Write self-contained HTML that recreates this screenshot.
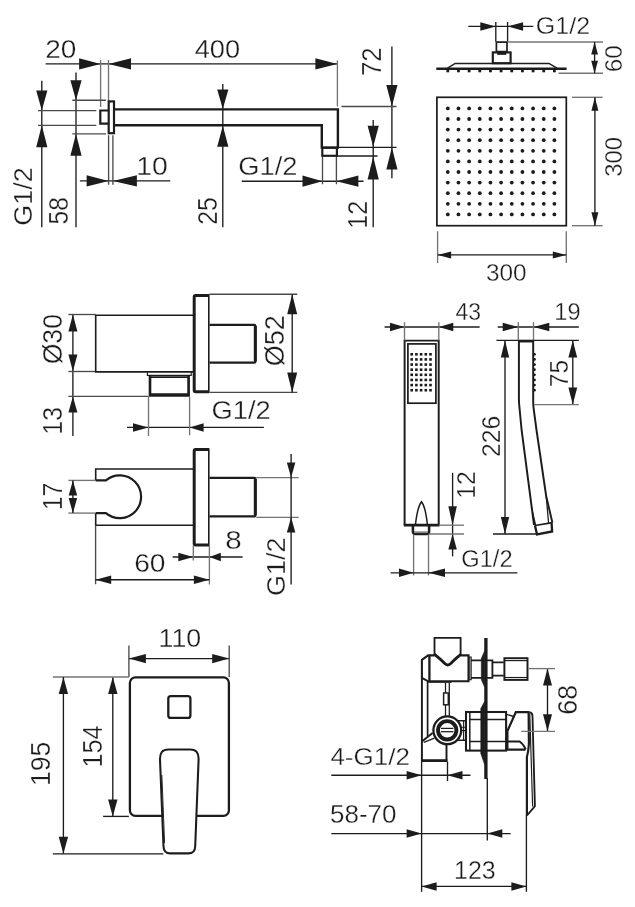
<!DOCTYPE html>
<html><head><meta charset="utf-8"><title>Technical drawing</title>
<style>
html,body{margin:0;padding:0;background:#fff;}
svg{display:block;will-change:transform;filter:blur(0.35px);}
text{font-family:"Liberation Sans",sans-serif;fill:#1c1c1c;stroke:#fff;stroke-width:0.3px;}
</style></head><body>
<svg width="635" height="907" viewBox="0 0 635 907">
<rect x="0" y="0" width="635" height="907" fill="#ffffff"/>
<line x1="45.60" y1="63.90" x2="337.40" y2="63.90" stroke="#1c1c1c" stroke-width="1.35" stroke-linecap="butt"/>
<polygon points="100.60,63.90 79.10,58.30 79.10,69.50" fill="#1c1c1c"/>
<polygon points="108.50,63.90 131.00,58.30 131.00,69.50" fill="#1c1c1c"/>
<polygon points="337.40,63.90 315.40,58.30 315.40,69.50" fill="#1c1c1c"/>
<line x1="100.60" y1="60.00" x2="100.60" y2="107.00" stroke="#747474" stroke-width="1.35" stroke-linecap="butt"/>
<line x1="108.50" y1="60.00" x2="108.50" y2="101.00" stroke="#747474" stroke-width="1.35" stroke-linecap="butt"/>
<line x1="337.40" y1="60.40" x2="337.40" y2="106.50" stroke="#747474" stroke-width="1.35" stroke-linecap="butt"/>
<text transform="translate(45.30,57.90) scale(1.055,1)" font-size="26.52">20</text>
<text transform="translate(194.69,57.90) scale(1.025,1)" font-size="26.52">400</text>
<line x1="76.00" y1="72.60" x2="76.00" y2="227.30" stroke="#1c1c1c" stroke-width="1.35" stroke-linecap="butt"/>
<polygon points="76.00,100.20 70.40,80.20 81.60,80.20" fill="#1c1c1c"/>
<polygon points="76.00,133.80 70.40,155.80 81.60,155.80" fill="#1c1c1c"/>
<line x1="72.30" y1="100.20" x2="106.00" y2="100.20" stroke="#4a4a4a" stroke-width="1.35" stroke-linecap="butt"/>
<line x1="72.30" y1="133.80" x2="106.00" y2="133.80" stroke="#4a4a4a" stroke-width="1.35" stroke-linecap="butt"/>
<text transform="translate(68.30,224.48) rotate(-90) scale(0.900,1)" font-size="27.24">58</text>
<line x1="41.80" y1="80.70" x2="41.80" y2="227.30" stroke="#1c1c1c" stroke-width="1.35" stroke-linecap="butt"/>
<polygon points="41.80,110.60 36.20,90.60 47.40,90.60" fill="#1c1c1c"/>
<polygon points="41.80,125.30 36.20,147.30 47.40,147.30" fill="#1c1c1c"/>
<line x1="38.00" y1="110.60" x2="96.30" y2="110.60" stroke="#4a4a4a" stroke-width="1.35" stroke-linecap="butt"/>
<line x1="38.00" y1="125.30" x2="96.30" y2="125.30" stroke="#4a4a4a" stroke-width="1.35" stroke-linecap="butt"/>
<text transform="translate(32.30,225.64) rotate(-90) scale(1.026,1)" font-size="26.21">G1/2</text>
<line x1="79.90" y1="180.90" x2="170.30" y2="180.90" stroke="#1c1c1c" stroke-width="1.35" stroke-linecap="butt"/>
<polygon points="108.60,180.90 86.60,175.30 86.60,186.50" fill="#1c1c1c"/>
<polygon points="112.90,180.90 136.90,175.30 136.90,186.50" fill="#1c1c1c"/>
<line x1="108.60" y1="135.20" x2="108.60" y2="184.70" stroke="#4a4a4a" stroke-width="1.35" stroke-linecap="butt"/>
<line x1="112.90" y1="135.20" x2="112.90" y2="184.70" stroke="#4a4a4a" stroke-width="1.35" stroke-linecap="butt"/>
<text transform="translate(136.17,174.50) scale(1.070,1)" font-size="26.52">10</text>
<line x1="222.80" y1="84.00" x2="222.80" y2="227.30" stroke="#1c1c1c" stroke-width="1.35" stroke-linecap="butt"/>
<polygon points="222.80,109.10 217.20,89.60 228.40,89.60" fill="#1c1c1c"/>
<polygon points="222.80,125.80 217.20,146.80 228.40,146.80" fill="#1c1c1c"/>
<text transform="translate(217.30,224.74) rotate(-90) scale(0.907,1)" font-size="27.24">25</text>
<line x1="241.80" y1="181.20" x2="363.50" y2="181.20" stroke="#1c1c1c" stroke-width="1.35" stroke-linecap="butt"/>
<polygon points="322.50,181.20 302.50,175.60 302.50,186.80" fill="#1c1c1c"/>
<polygon points="336.40,181.20 358.40,175.60 358.40,186.80" fill="#1c1c1c"/>
<line x1="322.50" y1="156.80" x2="322.50" y2="184.20" stroke="#4a4a4a" stroke-width="1.35" stroke-linecap="butt"/>
<line x1="336.40" y1="156.80" x2="336.40" y2="184.20" stroke="#4a4a4a" stroke-width="1.35" stroke-linecap="butt"/>
<text transform="translate(238.34,175.00) scale(1.069,1)" font-size="25.52">G1/2</text>
<line x1="391.90" y1="46.50" x2="391.90" y2="178.30" stroke="#1c1c1c" stroke-width="1.35" stroke-linecap="butt"/>
<polygon points="391.90,106.50 386.30,85.00 397.50,85.00" fill="#1c1c1c"/>
<polygon points="391.90,147.60 386.30,169.60 397.50,169.60" fill="#1c1c1c"/>
<line x1="341.50" y1="106.50" x2="396.50" y2="106.50" stroke="#4a4a4a" stroke-width="1.35" stroke-linecap="butt"/>
<line x1="338.00" y1="147.40" x2="396.50" y2="147.40" stroke="#1c1c1c" stroke-width="1.35" stroke-linecap="butt"/>
<text transform="translate(381.10,75.99) rotate(-90) scale(0.945,1)" font-size="27.24">72</text>
<line x1="373.20" y1="120.00" x2="373.20" y2="227.30" stroke="#1c1c1c" stroke-width="1.35" stroke-linecap="butt"/>
<polygon points="373.20,146.80 367.60,125.80 378.80,125.80" fill="#1c1c1c"/>
<polygon points="373.20,156.60 367.60,179.60 378.80,179.60" fill="#1c1c1c"/>
<line x1="336.40" y1="156.00" x2="377.50" y2="156.00" stroke="#1c1c1c" stroke-width="1.35" stroke-linecap="butt"/>
<text transform="translate(366.60,228.68) rotate(-90) scale(0.921,1)" font-size="27.24">12</text>
<path d="M114.5,109.4 H337.9 V147.6 H321.8 V125.2 H114.5" fill="none" stroke="#1c1c1c" stroke-width="2.42" stroke-linejoin="miter" stroke-linecap="butt"/>
<rect x="108.70" y="101.40" width="5.30" height="31.80" rx="0" fill="none" stroke="#1c1c1c" stroke-width="2.18"/>
<path d="M108.5,110.5 H100.3 V123.6 H108.5" fill="none" stroke="#1c1c1c" stroke-width="2.18" stroke-linejoin="miter" stroke-linecap="butt"/>
<rect x="322.30" y="147.70" width="14.60" height="8.10" rx="0" fill="none" stroke="#1c1c1c" stroke-width="2.18"/>
<line x1="468.30" y1="26.40" x2="533.30" y2="26.40" stroke="#1c1c1c" stroke-width="1.35" stroke-linecap="butt"/>
<polygon points="495.80,26.40 480.30,22.15 480.30,30.65" fill="#1c1c1c"/>
<polygon points="507.60,26.40 523.10,22.15 523.10,30.65" fill="#1c1c1c"/>
<line x1="495.80" y1="22.00" x2="495.80" y2="41.50" stroke="#1c1c1c" stroke-width="1.35" stroke-linecap="butt"/>
<line x1="507.60" y1="22.00" x2="507.60" y2="41.50" stroke="#1c1c1c" stroke-width="1.35" stroke-linecap="butt"/>
<text transform="translate(535.85,33.90) scale(1.086,1)" font-size="23.03">G1/2</text>
<rect x="496.40" y="42.10" width="10.60" height="9.50" rx="0" fill="none" stroke="#1c1c1c" stroke-width="1.72"/>
<line x1="497.20" y1="53.70" x2="506.20" y2="53.70" stroke="#1c1c1c" stroke-width="2.3" stroke-linecap="butt"/>
<rect x="492.80" y="52.40" width="17.80" height="10.80" rx="0" fill="none" stroke="#1c1c1c" stroke-width="2.18"/>
<path d="M447.5,68.2 L455.2,63.4 H549 L557,68.2" fill="none" stroke="#1c1c1c" stroke-width="1.49" stroke-linejoin="miter" stroke-linecap="butt"/>
<line x1="436.30" y1="68.80" x2="566.60" y2="68.80" stroke="#1c1c1c" stroke-width="2.64" stroke-linecap="butt"/>
<rect x="446.40" y="69.5" width="2.8" height="2.8" fill="#1c1c1c"/>
<rect x="457.06" y="69.5" width="2.8" height="2.8" fill="#1c1c1c"/>
<rect x="467.72" y="69.5" width="2.8" height="2.8" fill="#1c1c1c"/>
<rect x="478.38" y="69.5" width="2.8" height="2.8" fill="#1c1c1c"/>
<rect x="489.04" y="69.5" width="2.8" height="2.8" fill="#1c1c1c"/>
<rect x="499.70" y="69.5" width="2.8" height="2.8" fill="#1c1c1c"/>
<rect x="510.36" y="69.5" width="2.8" height="2.8" fill="#1c1c1c"/>
<rect x="521.02" y="69.5" width="2.8" height="2.8" fill="#1c1c1c"/>
<rect x="531.68" y="69.5" width="2.8" height="2.8" fill="#1c1c1c"/>
<rect x="542.34" y="69.5" width="2.8" height="2.8" fill="#1c1c1c"/>
<rect x="553.00" y="69.5" width="2.8" height="2.8" fill="#1c1c1c"/>
<line x1="507.60" y1="42.00" x2="603.00" y2="42.00" stroke="#747474" stroke-width="1.35" stroke-linecap="butt"/>
<line x1="558.60" y1="73.20" x2="603.00" y2="73.20" stroke="#747474" stroke-width="1.35" stroke-linecap="butt"/>
<line x1="594.60" y1="42.00" x2="594.60" y2="73.20" stroke="#1c1c1c" stroke-width="1.35" stroke-linecap="butt"/>
<polygon points="594.60,42.00 591.20,54.50 598.00,54.50" fill="#1c1c1c"/>
<polygon points="594.60,73.20 591.20,60.70 598.00,60.70" fill="#1c1c1c"/>
<text transform="translate(621.80,72.32) rotate(-90) scale(1.017,1)" font-size="23.94">60</text>
<rect x="436.90" y="97.30" width="129.40" height="128.40" rx="0" fill="none" stroke="#1c1c1c" stroke-width="1.72"/>
<circle cx="447.80" cy="108.40" r="1.9" fill="#1c1c1c"/>
<circle cx="447.80" cy="119.00" r="1.9" fill="#1c1c1c"/>
<circle cx="447.80" cy="129.60" r="1.9" fill="#1c1c1c"/>
<circle cx="447.80" cy="140.20" r="1.9" fill="#1c1c1c"/>
<circle cx="447.80" cy="150.80" r="1.9" fill="#1c1c1c"/>
<circle cx="447.80" cy="161.40" r="1.9" fill="#1c1c1c"/>
<circle cx="447.80" cy="172.00" r="1.9" fill="#1c1c1c"/>
<circle cx="447.80" cy="182.60" r="1.9" fill="#1c1c1c"/>
<circle cx="447.80" cy="193.20" r="1.9" fill="#1c1c1c"/>
<circle cx="447.80" cy="203.80" r="1.9" fill="#1c1c1c"/>
<circle cx="447.80" cy="214.40" r="1.9" fill="#1c1c1c"/>
<circle cx="458.46" cy="108.40" r="1.9" fill="#1c1c1c"/>
<circle cx="458.46" cy="119.00" r="1.9" fill="#1c1c1c"/>
<circle cx="458.46" cy="129.60" r="1.9" fill="#1c1c1c"/>
<circle cx="458.46" cy="140.20" r="1.9" fill="#1c1c1c"/>
<circle cx="458.46" cy="150.80" r="1.9" fill="#1c1c1c"/>
<circle cx="458.46" cy="161.40" r="1.9" fill="#1c1c1c"/>
<circle cx="458.46" cy="172.00" r="1.9" fill="#1c1c1c"/>
<circle cx="458.46" cy="182.60" r="1.9" fill="#1c1c1c"/>
<circle cx="458.46" cy="193.20" r="1.9" fill="#1c1c1c"/>
<circle cx="458.46" cy="203.80" r="1.9" fill="#1c1c1c"/>
<circle cx="458.46" cy="214.40" r="1.9" fill="#1c1c1c"/>
<circle cx="469.12" cy="108.40" r="1.9" fill="#1c1c1c"/>
<circle cx="469.12" cy="119.00" r="1.9" fill="#1c1c1c"/>
<circle cx="469.12" cy="129.60" r="1.9" fill="#1c1c1c"/>
<circle cx="469.12" cy="140.20" r="1.9" fill="#1c1c1c"/>
<circle cx="469.12" cy="150.80" r="1.9" fill="#1c1c1c"/>
<circle cx="469.12" cy="161.40" r="1.9" fill="#1c1c1c"/>
<circle cx="469.12" cy="172.00" r="1.9" fill="#1c1c1c"/>
<circle cx="469.12" cy="182.60" r="1.9" fill="#1c1c1c"/>
<circle cx="469.12" cy="193.20" r="1.9" fill="#1c1c1c"/>
<circle cx="469.12" cy="203.80" r="1.9" fill="#1c1c1c"/>
<circle cx="469.12" cy="214.40" r="1.9" fill="#1c1c1c"/>
<circle cx="479.78" cy="108.40" r="1.9" fill="#1c1c1c"/>
<circle cx="479.78" cy="119.00" r="1.9" fill="#1c1c1c"/>
<circle cx="479.78" cy="129.60" r="1.9" fill="#1c1c1c"/>
<circle cx="479.78" cy="140.20" r="1.9" fill="#1c1c1c"/>
<circle cx="479.78" cy="150.80" r="1.9" fill="#1c1c1c"/>
<circle cx="479.78" cy="161.40" r="1.9" fill="#1c1c1c"/>
<circle cx="479.78" cy="172.00" r="1.9" fill="#1c1c1c"/>
<circle cx="479.78" cy="182.60" r="1.9" fill="#1c1c1c"/>
<circle cx="479.78" cy="193.20" r="1.9" fill="#1c1c1c"/>
<circle cx="479.78" cy="203.80" r="1.9" fill="#1c1c1c"/>
<circle cx="479.78" cy="214.40" r="1.9" fill="#1c1c1c"/>
<circle cx="490.44" cy="108.40" r="1.9" fill="#1c1c1c"/>
<circle cx="490.44" cy="119.00" r="1.9" fill="#1c1c1c"/>
<circle cx="490.44" cy="129.60" r="1.9" fill="#1c1c1c"/>
<circle cx="490.44" cy="140.20" r="1.9" fill="#1c1c1c"/>
<circle cx="490.44" cy="150.80" r="1.9" fill="#1c1c1c"/>
<circle cx="490.44" cy="161.40" r="1.9" fill="#1c1c1c"/>
<circle cx="490.44" cy="172.00" r="1.9" fill="#1c1c1c"/>
<circle cx="490.44" cy="182.60" r="1.9" fill="#1c1c1c"/>
<circle cx="490.44" cy="193.20" r="1.9" fill="#1c1c1c"/>
<circle cx="490.44" cy="203.80" r="1.9" fill="#1c1c1c"/>
<circle cx="490.44" cy="214.40" r="1.9" fill="#1c1c1c"/>
<circle cx="501.10" cy="108.40" r="1.9" fill="#1c1c1c"/>
<circle cx="501.10" cy="119.00" r="1.9" fill="#1c1c1c"/>
<circle cx="501.10" cy="129.60" r="1.9" fill="#1c1c1c"/>
<circle cx="501.10" cy="140.20" r="1.9" fill="#1c1c1c"/>
<circle cx="501.10" cy="150.80" r="1.9" fill="#1c1c1c"/>
<circle cx="501.10" cy="161.40" r="1.9" fill="#1c1c1c"/>
<circle cx="501.10" cy="172.00" r="1.9" fill="#1c1c1c"/>
<circle cx="501.10" cy="182.60" r="1.9" fill="#1c1c1c"/>
<circle cx="501.10" cy="193.20" r="1.9" fill="#1c1c1c"/>
<circle cx="501.10" cy="203.80" r="1.9" fill="#1c1c1c"/>
<circle cx="501.10" cy="214.40" r="1.9" fill="#1c1c1c"/>
<circle cx="511.76" cy="108.40" r="1.9" fill="#1c1c1c"/>
<circle cx="511.76" cy="119.00" r="1.9" fill="#1c1c1c"/>
<circle cx="511.76" cy="129.60" r="1.9" fill="#1c1c1c"/>
<circle cx="511.76" cy="140.20" r="1.9" fill="#1c1c1c"/>
<circle cx="511.76" cy="150.80" r="1.9" fill="#1c1c1c"/>
<circle cx="511.76" cy="161.40" r="1.9" fill="#1c1c1c"/>
<circle cx="511.76" cy="172.00" r="1.9" fill="#1c1c1c"/>
<circle cx="511.76" cy="182.60" r="1.9" fill="#1c1c1c"/>
<circle cx="511.76" cy="193.20" r="1.9" fill="#1c1c1c"/>
<circle cx="511.76" cy="203.80" r="1.9" fill="#1c1c1c"/>
<circle cx="511.76" cy="214.40" r="1.9" fill="#1c1c1c"/>
<circle cx="522.42" cy="108.40" r="1.9" fill="#1c1c1c"/>
<circle cx="522.42" cy="119.00" r="1.9" fill="#1c1c1c"/>
<circle cx="522.42" cy="129.60" r="1.9" fill="#1c1c1c"/>
<circle cx="522.42" cy="140.20" r="1.9" fill="#1c1c1c"/>
<circle cx="522.42" cy="150.80" r="1.9" fill="#1c1c1c"/>
<circle cx="522.42" cy="161.40" r="1.9" fill="#1c1c1c"/>
<circle cx="522.42" cy="172.00" r="1.9" fill="#1c1c1c"/>
<circle cx="522.42" cy="182.60" r="1.9" fill="#1c1c1c"/>
<circle cx="522.42" cy="193.20" r="1.9" fill="#1c1c1c"/>
<circle cx="522.42" cy="203.80" r="1.9" fill="#1c1c1c"/>
<circle cx="522.42" cy="214.40" r="1.9" fill="#1c1c1c"/>
<circle cx="533.08" cy="108.40" r="1.9" fill="#1c1c1c"/>
<circle cx="533.08" cy="119.00" r="1.9" fill="#1c1c1c"/>
<circle cx="533.08" cy="129.60" r="1.9" fill="#1c1c1c"/>
<circle cx="533.08" cy="140.20" r="1.9" fill="#1c1c1c"/>
<circle cx="533.08" cy="150.80" r="1.9" fill="#1c1c1c"/>
<circle cx="533.08" cy="161.40" r="1.9" fill="#1c1c1c"/>
<circle cx="533.08" cy="172.00" r="1.9" fill="#1c1c1c"/>
<circle cx="533.08" cy="182.60" r="1.9" fill="#1c1c1c"/>
<circle cx="533.08" cy="193.20" r="1.9" fill="#1c1c1c"/>
<circle cx="533.08" cy="203.80" r="1.9" fill="#1c1c1c"/>
<circle cx="533.08" cy="214.40" r="1.9" fill="#1c1c1c"/>
<circle cx="543.74" cy="108.40" r="1.9" fill="#1c1c1c"/>
<circle cx="543.74" cy="119.00" r="1.9" fill="#1c1c1c"/>
<circle cx="543.74" cy="129.60" r="1.9" fill="#1c1c1c"/>
<circle cx="543.74" cy="140.20" r="1.9" fill="#1c1c1c"/>
<circle cx="543.74" cy="150.80" r="1.9" fill="#1c1c1c"/>
<circle cx="543.74" cy="161.40" r="1.9" fill="#1c1c1c"/>
<circle cx="543.74" cy="172.00" r="1.9" fill="#1c1c1c"/>
<circle cx="543.74" cy="182.60" r="1.9" fill="#1c1c1c"/>
<circle cx="543.74" cy="193.20" r="1.9" fill="#1c1c1c"/>
<circle cx="543.74" cy="203.80" r="1.9" fill="#1c1c1c"/>
<circle cx="543.74" cy="214.40" r="1.9" fill="#1c1c1c"/>
<circle cx="554.40" cy="108.40" r="1.9" fill="#1c1c1c"/>
<circle cx="554.40" cy="119.00" r="1.9" fill="#1c1c1c"/>
<circle cx="554.40" cy="129.60" r="1.9" fill="#1c1c1c"/>
<circle cx="554.40" cy="140.20" r="1.9" fill="#1c1c1c"/>
<circle cx="554.40" cy="150.80" r="1.9" fill="#1c1c1c"/>
<circle cx="554.40" cy="161.40" r="1.9" fill="#1c1c1c"/>
<circle cx="554.40" cy="172.00" r="1.9" fill="#1c1c1c"/>
<circle cx="554.40" cy="182.60" r="1.9" fill="#1c1c1c"/>
<circle cx="554.40" cy="193.20" r="1.9" fill="#1c1c1c"/>
<circle cx="554.40" cy="203.80" r="1.9" fill="#1c1c1c"/>
<circle cx="554.40" cy="214.40" r="1.9" fill="#1c1c1c"/>
<line x1="572.00" y1="97.30" x2="602.60" y2="97.30" stroke="#747474" stroke-width="1.35" stroke-linecap="butt"/>
<line x1="572.00" y1="225.70" x2="602.60" y2="225.70" stroke="#747474" stroke-width="1.35" stroke-linecap="butt"/>
<line x1="594.90" y1="97.30" x2="594.90" y2="225.70" stroke="#1c1c1c" stroke-width="1.35" stroke-linecap="butt"/>
<polygon points="594.90,97.30 591.40,110.80 598.40,110.80" fill="#1c1c1c"/>
<polygon points="594.90,225.70 591.40,212.20 598.40,212.20" fill="#1c1c1c"/>
<text transform="translate(621.80,176.80) rotate(-90) scale(0.999,1)" font-size="23.94">300</text>
<line x1="437.60" y1="231.30" x2="437.60" y2="263.10" stroke="#747474" stroke-width="1.35" stroke-linecap="butt"/>
<line x1="566.30" y1="231.30" x2="566.30" y2="263.10" stroke="#747474" stroke-width="1.35" stroke-linecap="butt"/>
<line x1="437.60" y1="254.90" x2="566.30" y2="254.90" stroke="#1c1c1c" stroke-width="1.35" stroke-linecap="butt"/>
<polygon points="437.60,254.90 451.10,251.40 451.10,258.40" fill="#1c1c1c"/>
<polygon points="566.30,254.90 552.80,251.40 552.80,258.40" fill="#1c1c1c"/>
<text transform="translate(485.99,280.60) scale(1.018,1)" font-size="23.94">300</text>
<line x1="72.90" y1="314.50" x2="72.90" y2="436.00" stroke="#1c1c1c" stroke-width="1.35" stroke-linecap="butt"/>
<polygon points="72.90,314.50 68.40,331.50 77.40,331.50" fill="#1c1c1c"/>
<polygon points="72.90,371.50 68.40,354.50 77.40,354.50" fill="#1c1c1c"/>
<polygon points="72.90,396.40 68.40,412.40 77.40,412.40" fill="#1c1c1c"/>
<line x1="68.40" y1="314.50" x2="95.60" y2="314.50" stroke="#4a4a4a" stroke-width="1.35" stroke-linecap="butt"/>
<line x1="68.40" y1="371.50" x2="95.60" y2="371.50" stroke="#4a4a4a" stroke-width="1.35" stroke-linecap="butt"/>
<line x1="68.40" y1="396.40" x2="148.50" y2="396.40" stroke="#4a4a4a" stroke-width="1.35" stroke-linecap="butt"/>
<text transform="translate(62.10,364.33) rotate(-90) scale(0.997,1)" font-size="26.71">Ø30</text>
<text transform="translate(62.10,434.55) rotate(-90) scale(0.901,1)" font-size="27.38">13</text>
<path d="M193.3,315.3 H95.7 V371.9 H193.3" fill="none" stroke="#1c1c1c" stroke-width="1.61" stroke-linejoin="miter" stroke-linecap="butt"/>
<path d="M209.0,295.4 H195.6 Q194.2,295.4 194.2,296.8 V390.3 Q194.2,391.7 195.6,391.7 H209.0" fill="none" stroke="#1c1c1c" stroke-width="2.99" stroke-linejoin="round" stroke-linecap="butt"/>
<line x1="208.80" y1="294.20" x2="208.80" y2="393.00" stroke="#1c1c1c" stroke-width="1.61" stroke-linecap="butt"/>
<path d="M209.5,324.8 H254.2 Q255.4,324.8 255.4,326 V361.4 Q255.4,362.6 254.2,362.6 H209.5" fill="none" stroke="#1c1c1c" stroke-width="2.3" stroke-linejoin="miter" stroke-linecap="butt"/>
<line x1="255.30" y1="326.00" x2="255.30" y2="361.40" stroke="#1c1c1c" stroke-width="2.99" stroke-linecap="butt"/>
<path d="M147.4,372.3 V375.3 H191.2 V372.3" fill="none" stroke="#1c1c1c" stroke-width="1.15" stroke-linejoin="miter" stroke-linecap="butt"/>
<path d="M150.0,375.8 V395.4 H188.6 V375.8" fill="none" stroke="#1c1c1c" stroke-width="2.64" stroke-linejoin="miter" stroke-linecap="butt"/>
<line x1="150.00" y1="377.20" x2="188.60" y2="377.20" stroke="#1c1c1c" stroke-width="1.84" stroke-linecap="butt"/>
<line x1="150.00" y1="394.00" x2="188.60" y2="394.00" stroke="#1c1c1c" stroke-width="1.38" stroke-linecap="butt"/>
<line x1="209.40" y1="294.20" x2="297.30" y2="294.20" stroke="#4a4a4a" stroke-width="1.35" stroke-linecap="butt"/>
<line x1="209.40" y1="392.40" x2="297.30" y2="392.40" stroke="#4a4a4a" stroke-width="1.35" stroke-linecap="butt"/>
<line x1="292.20" y1="294.20" x2="292.20" y2="392.40" stroke="#1c1c1c" stroke-width="1.35" stroke-linecap="butt"/>
<polygon points="292.20,294.20 287.20,314.20 297.20,314.20" fill="#1c1c1c"/>
<polygon points="292.20,392.40 287.20,372.40 297.20,372.40" fill="#1c1c1c"/>
<text transform="translate(283.60,366.25) rotate(-90) scale(1.012,1)" font-size="26.71">Ø52</text>
<line x1="127.00" y1="427.40" x2="263.90" y2="427.40" stroke="#1c1c1c" stroke-width="1.35" stroke-linecap="butt"/>
<polygon points="148.50,427.40 133.00,423.15 133.00,431.65" fill="#1c1c1c"/>
<polygon points="189.60,427.40 203.60,423.15 203.60,431.65" fill="#1c1c1c"/>
<line x1="148.50" y1="396.40" x2="148.50" y2="436.00" stroke="#747474" stroke-width="1.35" stroke-linecap="butt"/>
<line x1="189.60" y1="396.40" x2="189.60" y2="435.30" stroke="#747474" stroke-width="1.35" stroke-linecap="butt"/>
<text transform="translate(211.43,419.40) scale(1.065,1)" font-size="25.66">G1/2</text>
<path d="M193.3,469 H95.7 V480.4" fill="none" stroke="#1c1c1c" stroke-width="1.61" stroke-linejoin="miter" stroke-linecap="butt"/>
<path d="M95.7,513.1 V525.2 H193.3" fill="none" stroke="#1c1c1c" stroke-width="1.61" stroke-linejoin="miter" stroke-linecap="butt"/>
<path d="M95.7,480.4 H105.9 A21.4,21.4 0 1 1 105.9,513.1 H95.7" fill="none" stroke="#1c1c1c" stroke-width="2.18" stroke-linejoin="miter" stroke-linecap="butt"/>
<line x1="68.40" y1="480.40" x2="95.60" y2="480.40" stroke="#747474" stroke-width="1.35" stroke-linecap="butt"/>
<line x1="68.40" y1="513.10" x2="95.60" y2="513.10" stroke="#747474" stroke-width="1.35" stroke-linecap="butt"/>
<line x1="72.90" y1="480.40" x2="72.90" y2="513.10" stroke="#1c1c1c" stroke-width="1.35" stroke-linecap="butt"/>
<polygon points="72.90,480.40 68.65,495.40 77.15,495.40" fill="#1c1c1c"/>
<polygon points="72.90,513.10 68.65,498.10 77.15,498.10" fill="#1c1c1c"/>
<text transform="translate(62.10,510.27) rotate(-90) scale(0.895,1)" font-size="27.78">17</text>
<path d="M209.0,449.6 H195.6 Q194.2,449.6 194.2,451 V543.6 Q194.2,545 195.6,545 H209.0" fill="none" stroke="#1c1c1c" stroke-width="2.99" stroke-linejoin="round" stroke-linecap="butt"/>
<line x1="208.80" y1="448.40" x2="208.80" y2="546.20" stroke="#1c1c1c" stroke-width="1.61" stroke-linecap="butt"/>
<path d="M209.5,477.8 H254.2 Q255.4,477.8 255.4,479 V515.2 Q255.4,516.4 254.2,516.4 H209.5" fill="none" stroke="#1c1c1c" stroke-width="2.3" stroke-linejoin="miter" stroke-linecap="butt"/>
<line x1="255.30" y1="479.00" x2="255.30" y2="515.20" stroke="#1c1c1c" stroke-width="2.99" stroke-linecap="butt"/>
<line x1="256.20" y1="477.60" x2="298.70" y2="477.60" stroke="#747474" stroke-width="1.35" stroke-linecap="butt"/>
<line x1="256.20" y1="517.30" x2="298.70" y2="517.30" stroke="#747474" stroke-width="1.35" stroke-linecap="butt"/>
<line x1="291.10" y1="454.10" x2="291.10" y2="584.50" stroke="#1c1c1c" stroke-width="1.35" stroke-linecap="butt"/>
<polygon points="291.10,477.60 286.85,462.60 295.35,462.60" fill="#1c1c1c"/>
<polygon points="291.10,517.30 286.85,532.60 295.35,532.60" fill="#1c1c1c"/>
<text transform="translate(284.50,596.05) rotate(-90) scale(1.026,1)" font-size="26.34">G1/2</text>
<line x1="172.60" y1="557.00" x2="242.60" y2="557.00" stroke="#1c1c1c" stroke-width="1.35" stroke-linecap="butt"/>
<polygon points="193.30,557.00 178.30,552.75 178.30,561.25" fill="#1c1c1c"/>
<polygon points="209.40,557.00 220.80,552.75 220.80,561.25" fill="#1c1c1c"/>
<line x1="193.30" y1="545.60" x2="193.30" y2="560.40" stroke="#747474" stroke-width="1.35" stroke-linecap="butt"/>
<line x1="209.40" y1="545.60" x2="209.40" y2="584.50" stroke="#747474" stroke-width="1.35" stroke-linecap="butt"/>
<text transform="translate(225.34,548.90) scale(1.109,1)" font-size="26.67">8</text>
<line x1="95.60" y1="525.20" x2="95.60" y2="584.20" stroke="#4a4a4a" stroke-width="1.35" stroke-linecap="butt"/>
<line x1="95.60" y1="579.70" x2="209.40" y2="579.70" stroke="#1c1c1c" stroke-width="1.35" stroke-linecap="butt"/>
<polygon points="95.60,579.70 111.20,575.45 111.20,583.95" fill="#1c1c1c"/>
<polygon points="209.40,579.70 193.90,575.45 193.90,583.95" fill="#1c1c1c"/>
<text transform="translate(134.19,572.10) scale(1.056,1)" font-size="26.67">60</text>
<path d="M404.6,525.2 V340.6 H438.7 V525.2" fill="none" stroke="#1c1c1c" stroke-width="1.95" stroke-linejoin="miter" stroke-linecap="butt"/>
<line x1="403.80" y1="525.20" x2="439.50" y2="525.20" stroke="#1c1c1c" stroke-width="2.76" stroke-linecap="butt"/>
<rect x="407.90" y="343.90" width="28.00" height="59.30" rx="0" fill="none" stroke="#1c1c1c" stroke-width="1.72"/>
<rect x="410.40" y="353.00" width="2.6" height="2.6" fill="#1c1c1c"/>
<rect x="410.40" y="358.13" width="2.6" height="2.6" fill="#1c1c1c"/>
<rect x="410.40" y="363.26" width="2.6" height="2.6" fill="#1c1c1c"/>
<rect x="410.40" y="368.39" width="2.6" height="2.6" fill="#1c1c1c"/>
<rect x="410.40" y="373.52" width="2.6" height="2.6" fill="#1c1c1c"/>
<rect x="410.40" y="378.65" width="2.6" height="2.6" fill="#1c1c1c"/>
<rect x="410.40" y="383.78" width="2.6" height="2.6" fill="#1c1c1c"/>
<rect x="410.40" y="388.91" width="2.6" height="2.6" fill="#1c1c1c"/>
<rect x="415.10" y="353.00" width="2.6" height="2.6" fill="#1c1c1c"/>
<rect x="415.10" y="358.13" width="2.6" height="2.6" fill="#1c1c1c"/>
<rect x="415.10" y="363.26" width="2.6" height="2.6" fill="#1c1c1c"/>
<rect x="415.10" y="368.39" width="2.6" height="2.6" fill="#1c1c1c"/>
<rect x="415.10" y="373.52" width="2.6" height="2.6" fill="#1c1c1c"/>
<rect x="415.10" y="378.65" width="2.6" height="2.6" fill="#1c1c1c"/>
<rect x="415.10" y="383.78" width="2.6" height="2.6" fill="#1c1c1c"/>
<rect x="415.10" y="388.91" width="2.6" height="2.6" fill="#1c1c1c"/>
<rect x="419.80" y="353.00" width="2.6" height="2.6" fill="#1c1c1c"/>
<rect x="419.80" y="358.13" width="2.6" height="2.6" fill="#1c1c1c"/>
<rect x="419.80" y="363.26" width="2.6" height="2.6" fill="#1c1c1c"/>
<rect x="419.80" y="368.39" width="2.6" height="2.6" fill="#1c1c1c"/>
<rect x="419.80" y="373.52" width="2.6" height="2.6" fill="#1c1c1c"/>
<rect x="419.80" y="378.65" width="2.6" height="2.6" fill="#1c1c1c"/>
<rect x="419.80" y="383.78" width="2.6" height="2.6" fill="#1c1c1c"/>
<rect x="419.80" y="388.91" width="2.6" height="2.6" fill="#1c1c1c"/>
<rect x="424.50" y="353.00" width="2.6" height="2.6" fill="#1c1c1c"/>
<rect x="424.50" y="358.13" width="2.6" height="2.6" fill="#1c1c1c"/>
<rect x="424.50" y="363.26" width="2.6" height="2.6" fill="#1c1c1c"/>
<rect x="424.50" y="368.39" width="2.6" height="2.6" fill="#1c1c1c"/>
<rect x="424.50" y="373.52" width="2.6" height="2.6" fill="#1c1c1c"/>
<rect x="424.50" y="378.65" width="2.6" height="2.6" fill="#1c1c1c"/>
<rect x="424.50" y="383.78" width="2.6" height="2.6" fill="#1c1c1c"/>
<rect x="424.50" y="388.91" width="2.6" height="2.6" fill="#1c1c1c"/>
<rect x="429.20" y="353.00" width="2.6" height="2.6" fill="#1c1c1c"/>
<rect x="429.20" y="358.13" width="2.6" height="2.6" fill="#1c1c1c"/>
<rect x="429.20" y="363.26" width="2.6" height="2.6" fill="#1c1c1c"/>
<rect x="429.20" y="368.39" width="2.6" height="2.6" fill="#1c1c1c"/>
<rect x="429.20" y="373.52" width="2.6" height="2.6" fill="#1c1c1c"/>
<rect x="429.20" y="378.65" width="2.6" height="2.6" fill="#1c1c1c"/>
<rect x="429.20" y="383.78" width="2.6" height="2.6" fill="#1c1c1c"/>
<rect x="429.20" y="388.91" width="2.6" height="2.6" fill="#1c1c1c"/>
<path d="M415.4,525 C417,511 420,503.5 421.5,501.7 C423,503.5 426,511 427.4,525" fill="none" stroke="#1c1c1c" stroke-width="1.49" stroke-linejoin="miter" stroke-linecap="butt"/>
<path d="M412.9,525.2 V531.3 Q412.9,533.9 415.5,533.9 H426.5 Q429.1,533.9 429.1,531.3 V525.2" fill="none" stroke="#1c1c1c" stroke-width="2.53" stroke-linejoin="miter" stroke-linecap="butt"/>
<line x1="414.00" y1="532.20" x2="428.00" y2="532.20" stroke="#888" stroke-width="1.84" stroke-linecap="butt"/>
<line x1="384.60" y1="327.00" x2="479.60" y2="327.00" stroke="#1c1c1c" stroke-width="1.35" stroke-linecap="butt"/>
<polygon points="404.50,327.00 390.00,322.75 390.00,331.25" fill="#1c1c1c"/>
<polygon points="438.80,327.00 453.30,322.75 453.30,331.25" fill="#1c1c1c"/>
<line x1="404.50" y1="322.30" x2="404.50" y2="340.40" stroke="#747474" stroke-width="1.35" stroke-linecap="butt"/>
<line x1="438.80" y1="322.30" x2="438.80" y2="340.40" stroke="#747474" stroke-width="1.35" stroke-linecap="butt"/>
<text transform="translate(455.58,320.00) scale(0.937,1)" font-size="24.52">43</text>
<line x1="413.60" y1="534.50" x2="413.60" y2="575.50" stroke="#747474" stroke-width="1.35" stroke-linecap="butt"/>
<line x1="428.50" y1="534.50" x2="428.50" y2="575.50" stroke="#747474" stroke-width="1.35" stroke-linecap="butt"/>
<line x1="390.70" y1="572.80" x2="517.40" y2="572.80" stroke="#1c1c1c" stroke-width="1.35" stroke-linecap="butt"/>
<polygon points="413.60,572.80 399.00,568.55 399.00,577.05" fill="#1c1c1c"/>
<polygon points="428.50,572.80 445.00,568.55 445.00,577.05" fill="#1c1c1c"/>
<text transform="translate(461.21,566.50) scale(1.005,1)" font-size="23.59">G1/2</text>
<line x1="452.60" y1="472.80" x2="452.60" y2="556.40" stroke="#1c1c1c" stroke-width="1.35" stroke-linecap="butt"/>
<polygon points="452.60,525.20 448.35,506.20 456.85,506.20" fill="#1c1c1c"/>
<polygon points="452.60,534.00 448.35,549.60 456.85,549.60" fill="#1c1c1c"/>
<line x1="438.80" y1="525.20" x2="464.00" y2="525.20" stroke="#747474" stroke-width="1.35" stroke-linecap="butt"/>
<line x1="429.20" y1="534.00" x2="464.00" y2="534.00" stroke="#747474" stroke-width="1.35" stroke-linecap="butt"/>
<text transform="translate(474.50,498.87) rotate(-90) scale(0.986,1)" font-size="25.23">12</text>
<line x1="505.00" y1="340.40" x2="505.00" y2="534.00" stroke="#1c1c1c" stroke-width="1.35" stroke-linecap="butt"/>
<polygon points="505.00,340.40 500.80,357.40 509.20,357.40" fill="#1c1c1c"/>
<polygon points="505.00,534.00 500.80,517.00 509.20,517.00" fill="#1c1c1c"/>
<line x1="496.40" y1="340.40" x2="578.80" y2="340.40" stroke="#1c1c1c" stroke-width="1.35" stroke-linecap="butt"/>
<line x1="493.00" y1="534.00" x2="537.50" y2="534.00" stroke="#1c1c1c" stroke-width="1.35" stroke-linecap="butt"/>
<text transform="translate(500.20,456.93) rotate(-90) scale(0.979,1)" font-size="25.23">226</text>
<line x1="497.70" y1="327.00" x2="578.80" y2="327.00" stroke="#1c1c1c" stroke-width="1.35" stroke-linecap="butt"/>
<polygon points="518.30,327.00 502.70,322.75 502.70,331.25" fill="#1c1c1c"/>
<polygon points="533.50,327.00 549.30,322.75 549.30,331.25" fill="#1c1c1c"/>
<line x1="518.30" y1="322.30" x2="518.30" y2="340.40" stroke="#747474" stroke-width="1.35" stroke-linecap="butt"/>
<line x1="533.50" y1="322.30" x2="533.50" y2="340.40" stroke="#747474" stroke-width="1.35" stroke-linecap="butt"/>
<text transform="translate(554.33,320.00) scale(0.960,1)" font-size="24.52">19</text>
<path d="M518.9,341 V399 Q519.0,404 519.6,409 L521.6,430 L534.0,524.8" fill="none" stroke="#1c1c1c" stroke-width="1.95" stroke-linejoin="miter" stroke-linecap="butt"/>
<path d="M533.2,341 V403 Q533.3,406 533.7,409 L536.5,430 L546.2,496.2 L552.4,522.6" fill="none" stroke="#1c1c1c" stroke-width="1.95" stroke-linejoin="miter" stroke-linecap="butt"/>
<path d="M546.2,496.2 L548.6,523.2" fill="none" stroke="#1c1c1c" stroke-width="1.26" stroke-linejoin="miter" stroke-linecap="butt"/>
<polygon points="531.6,505 533.6,525 536.2,525" fill="#1c1c1c"/>
<line x1="518.10" y1="341.20" x2="534.00" y2="341.20" stroke="#1c1c1c" stroke-width="2.53" stroke-linecap="butt"/>
<circle cx="534.5" cy="354.30" r="1.35" fill="#1c1c1c"/>
<circle cx="534.5" cy="359.43" r="1.35" fill="#1c1c1c"/>
<circle cx="534.5" cy="364.56" r="1.35" fill="#1c1c1c"/>
<circle cx="534.5" cy="369.69" r="1.35" fill="#1c1c1c"/>
<circle cx="534.5" cy="374.82" r="1.35" fill="#1c1c1c"/>
<circle cx="534.5" cy="379.95" r="1.35" fill="#1c1c1c"/>
<circle cx="534.5" cy="385.08" r="1.35" fill="#1c1c1c"/>
<circle cx="534.5" cy="390.21" r="1.35" fill="#1c1c1c"/>
<path d="M534.9,525.3 L537.0,534.3 L552.1,531.5 L551.6,523.0" fill="none" stroke="#1c1c1c" stroke-width="2.3" stroke-linejoin="miter" stroke-linecap="butt"/>
<line x1="535.20" y1="525.50" x2="552.30" y2="522.70" stroke="#1c1c1c" stroke-width="1.72" stroke-linecap="butt"/>
<line x1="572.80" y1="340.40" x2="572.80" y2="404.60" stroke="#1c1c1c" stroke-width="1.35" stroke-linecap="butt"/>
<polygon points="572.80,340.40 568.40,357.40 577.20,357.40" fill="#1c1c1c"/>
<polygon points="572.80,404.60 568.40,387.60 577.20,387.60" fill="#1c1c1c"/>
<line x1="534.20" y1="404.60" x2="578.80" y2="404.60" stroke="#747474" stroke-width="1.35" stroke-linecap="butt"/>
<text transform="translate(567.50,387.23) rotate(-90) scale(0.957,1)" font-size="25.60">75</text>
<line x1="128.90" y1="658.60" x2="229.20" y2="658.60" stroke="#1c1c1c" stroke-width="1.35" stroke-linecap="butt"/>
<polygon points="128.90,658.60 145.90,653.90 145.90,663.30" fill="#1c1c1c"/>
<polygon points="229.20,658.60 212.20,653.90 212.20,663.30" fill="#1c1c1c"/>
<line x1="128.90" y1="645.40" x2="128.90" y2="677.00" stroke="#4a4a4a" stroke-width="1.35" stroke-linecap="butt"/>
<line x1="229.20" y1="645.40" x2="229.20" y2="677.00" stroke="#4a4a4a" stroke-width="1.35" stroke-linecap="butt"/>
<text transform="translate(158.49,646.70) scale(1.020,1)" font-size="26.24">110</text>
<rect x="129.90" y="677.40" width="99.00" height="138.50" rx="5.5" fill="none" stroke="#1c1c1c" stroke-width="2.3"/>
<rect x="168.30" y="696.20" width="22.10" height="21.70" rx="2.5" fill="none" stroke="#1c1c1c" stroke-width="2.3"/>
<path d="M168.3,749.5 H190.3 Q198.9,749.5 198.6,759.3 L195.2,846.5 Q194.9,853.4 188.5,853.4 H170 Q163.9,853.4 163.5,846.5 L160,759.3 Q159.7,749.5 168.3,749.5 Z" fill="#fff" stroke="#1c1c1c" stroke-width="2.07" stroke-linejoin="miter" stroke-linecap="butt"/>
<line x1="161.90" y1="775.00" x2="164.60" y2="843.00" stroke="#1c1c1c" stroke-width="0.92" stroke-linecap="butt"/>
<line x1="112.80" y1="677.00" x2="112.80" y2="816.40" stroke="#1c1c1c" stroke-width="1.35" stroke-linecap="butt"/>
<polygon points="112.80,677.00 108.10,694.00 117.50,694.00" fill="#1c1c1c"/>
<polygon points="112.80,816.40 108.10,799.40 117.50,799.40" fill="#1c1c1c"/>
<line x1="52.80" y1="677.00" x2="128.90" y2="677.00" stroke="#747474" stroke-width="1.35" stroke-linecap="butt"/>
<line x1="103.10" y1="816.40" x2="128.90" y2="816.40" stroke="#1c1c1c" stroke-width="1.35" stroke-linecap="butt"/>
<text transform="translate(102.40,767.59) rotate(-90) scale(0.923,1)" font-size="27.35">154</text>
<line x1="63.40" y1="677.00" x2="63.40" y2="853.80" stroke="#1c1c1c" stroke-width="1.35" stroke-linecap="butt"/>
<polygon points="63.40,677.00 58.70,694.00 68.10,694.00" fill="#1c1c1c"/>
<polygon points="63.40,853.80 58.70,836.80 68.10,836.80" fill="#1c1c1c"/>
<line x1="52.80" y1="853.80" x2="163.30" y2="853.80" stroke="#1c1c1c" stroke-width="1.35" stroke-linecap="butt"/>
<text transform="translate(50.30,786.10) rotate(-90) scale(0.992,1)" font-size="26.95">195</text>
<line x1="485.90" y1="638.00" x2="485.90" y2="779.00" stroke="#1c1c1c" stroke-width="3.33" stroke-linecap="butt"/>
<line x1="487.30" y1="778.00" x2="487.30" y2="840.60" stroke="#1c1c1c" stroke-width="1.35" stroke-linecap="butt"/>
<path d="M434.5,655 V637.8 H460.6 V655" fill="none" stroke="#1c1c1c" stroke-width="1.84" stroke-linejoin="miter" stroke-linecap="butt"/>
<path d="M434.3,654.2 C437,656.5 441,659.5 444.5,663.3 Q447.8,666.6 451,663.3 C454.5,659.5 458.5,656.5 460.8,654.2" fill="none" stroke="#1c1c1c" stroke-width="2.88" stroke-linejoin="miter" stroke-linecap="butt"/>
<path d="M434.5,655.4 H428.2 L421.9,659.8 V677.9 L428.2,681.3 H468.5 V655.4 H460.6" fill="none" stroke="#1c1c1c" stroke-width="2.07" stroke-linejoin="miter" stroke-linecap="butt"/>
<line x1="429.40" y1="655.60" x2="429.40" y2="681.00" stroke="#1c1c1c" stroke-width="2.3" stroke-linecap="butt"/>
<line x1="428.20" y1="681.90" x2="451.50" y2="681.90" stroke="#1c1c1c" stroke-width="1.84" stroke-linecap="butt"/>
<path d="M468.5,657 H471.2 V679.7 H468.5" fill="none" stroke="#1c1c1c" stroke-width="1.03" stroke-linejoin="miter" stroke-linecap="butt"/>
<line x1="469.90" y1="657.00" x2="469.90" y2="679.70" stroke="#1c1c1c" stroke-width="0.92" stroke-linecap="butt"/>
<path d="M471,660.3 H492.4 V677.9 H471" fill="none" stroke="#1c1c1c" stroke-width="1.84" stroke-linejoin="miter" stroke-linecap="butt"/>
<path d="M484.6,651 L481.3,658.5 V679.5 L484.6,687 Z" fill="#1c1c1c" stroke="#1c1c1c" stroke-width="0.6" stroke-linejoin="round"/>
<path d="M492.4,662.4 H503.8 M492.4,675.7 H503.8" fill="none" stroke="#1c1c1c" stroke-width="1.72" stroke-linejoin="miter" stroke-linecap="butt"/>
<rect x="504.40" y="658.20" width="23.10" height="21.70" rx="0" fill="none" stroke="#1c1c1c" stroke-width="1.95"/>
<line x1="504.40" y1="660.60" x2="527.50" y2="660.60" stroke="#1c1c1c" stroke-width="1.15" stroke-linecap="butt"/>
<line x1="504.40" y1="677.50" x2="527.50" y2="677.50" stroke="#1c1c1c" stroke-width="1.15" stroke-linecap="butt"/>
<line x1="421.90" y1="677.90" x2="421.90" y2="761.00" stroke="#1c1c1c" stroke-width="1.95" stroke-linecap="butt"/>
<line x1="427.60" y1="681.50" x2="427.60" y2="736.50" stroke="#1c1c1c" stroke-width="1.72" stroke-linecap="butt"/>
<line x1="445.50" y1="682.50" x2="445.50" y2="717.00" stroke="#1c1c1c" stroke-width="1.26" stroke-linecap="butt"/>
<line x1="449.30" y1="682.50" x2="449.30" y2="717.00" stroke="#1c1c1c" stroke-width="1.26" stroke-linecap="butt"/>
<rect x="443.60" y="693.00" width="4.70" height="11.80" rx="0" fill="#fff" stroke="#1c1c1c" stroke-width="1.49"/>
<path d="M421.9,741.6 L432.6,733 M446.5,745 V761" fill="none" stroke="#1c1c1c" stroke-width="1.95" stroke-linejoin="miter" stroke-linecap="butt"/>
<line x1="421.10" y1="760.60" x2="447.40" y2="760.60" stroke="#1c1c1c" stroke-width="2.76" stroke-linecap="butt"/>
<path d="M423.8,742.3 L434.5,738.2" fill="none" stroke="#1c1c1c" stroke-width="1.26" stroke-linejoin="miter" stroke-linecap="butt"/>
<path d="M457,720.8 H466 M457,740.3 H466" fill="none" stroke="#1c1c1c" stroke-width="1.61" stroke-linejoin="miter" stroke-linecap="butt"/>
<path d="M461.5,727.2 H466 M461.5,730.6 H466" fill="none" stroke="#1c1c1c" stroke-width="1.15" stroke-linejoin="miter" stroke-linecap="butt"/>
<line x1="463.60" y1="720.80" x2="463.60" y2="740.30" stroke="#1c1c1c" stroke-width="1.15" stroke-linecap="butt"/>
<circle cx="447.30" cy="730.30" r="13.90" fill="#fff" stroke="#1c1c1c" stroke-width="2.3"/>
<circle cx="447.20" cy="730.30" r="9.20" fill="none" stroke="#1c1c1c" stroke-width="3.91"/>
<line x1="441.00" y1="728.40" x2="453.40" y2="728.40" stroke="#1c1c1c" stroke-width="1.26" stroke-linecap="butt"/>
<line x1="441.00" y1="731.70" x2="453.40" y2="731.70" stroke="#1c1c1c" stroke-width="1.26" stroke-linecap="butt"/>
<rect x="466.00" y="712.00" width="40.10" height="38.60" rx="0" fill="none" stroke="#1c1c1c" stroke-width="2.07"/>
<line x1="469.80" y1="712.00" x2="469.80" y2="750.60" stroke="#1c1c1c" stroke-width="1.49" stroke-linecap="butt"/>
<line x1="469.80" y1="719.60" x2="506.10" y2="719.60" stroke="#1c1c1c" stroke-width="1.49" stroke-linecap="butt"/>
<line x1="469.80" y1="741.50" x2="506.10" y2="741.50" stroke="#1c1c1c" stroke-width="1.49" stroke-linecap="butt"/>
<path d="M484.6,701.5 L480.8,708.5 V753.5 L484.6,764.5 Z" fill="#1c1c1c" stroke="#1c1c1c" stroke-width="0.6" stroke-linejoin="round"/>
<path d="M506.5,714.3 L513.6,716.5" fill="none" stroke="#1c1c1c" stroke-width="1.38" stroke-linejoin="miter" stroke-linecap="butt"/>
<path d="M529.4,712.2 H515.8 L507.4,731 V749.6 H525.6" fill="none" stroke="#1c1c1c" stroke-width="2.18" stroke-linejoin="miter" stroke-linecap="butt"/>
<path d="M507.4,741.5 H519.6 Q523.5,744 525.8,749.4" fill="none" stroke="#1c1c1c" stroke-width="1.84" stroke-linejoin="miter" stroke-linecap="butt"/>
<path d="M528.6,712.2 L528.9,744 Q528.4,752 526.9,757 L526.9,815.3" fill="none" stroke="#1c1c1c" stroke-width="2.18" stroke-linejoin="miter" stroke-linecap="butt"/>
<path d="M529.4,712.2 Q532.4,712.6 532.5,716 L534.9,806.2 L527.0,815.5" fill="none" stroke="#1c1c1c" stroke-width="1.84" stroke-linejoin="miter" stroke-linecap="butt"/>
<path d="M529.8,714 L532.6,806.5" fill="none" stroke="#1c1c1c" stroke-width="1.15" stroke-linejoin="miter" stroke-linecap="butt"/>
<line x1="547.50" y1="668.60" x2="547.50" y2="731.30" stroke="#1c1c1c" stroke-width="1.35" stroke-linecap="butt"/>
<polygon points="547.50,668.60 543.00,685.60 552.00,685.60" fill="#1c1c1c"/>
<polygon points="547.50,731.30 543.00,714.30 552.00,714.30" fill="#1c1c1c"/>
<line x1="528.80" y1="668.60" x2="555.00" y2="668.60" stroke="#747474" stroke-width="1.35" stroke-linecap="butt"/>
<line x1="521.30" y1="731.30" x2="555.00" y2="731.30" stroke="#747474" stroke-width="1.35" stroke-linecap="butt"/>
<text transform="translate(577.00,714.63) rotate(-90) scale(0.973,1)" font-size="27.38">68</text>
<line x1="331.30" y1="775.20" x2="470.50" y2="775.20" stroke="#1c1c1c" stroke-width="1.35" stroke-linecap="butt"/>
<polygon points="421.60,775.20 406.60,770.95 406.60,779.45" fill="#1c1c1c"/>
<polygon points="447.50,775.20 462.50,770.95 462.50,779.45" fill="#1c1c1c"/>
<line x1="421.60" y1="761.40" x2="421.60" y2="891.80" stroke="#1c1c1c" stroke-width="1.35" stroke-linecap="butt"/>
<line x1="447.50" y1="761.40" x2="447.50" y2="781.10" stroke="#1c1c1c" stroke-width="1.35" stroke-linecap="butt"/>
<text transform="translate(330.41,765.30) scale(1.078,1)" font-size="24.14">4-G1/2</text>
<line x1="331.30" y1="833.60" x2="510.70" y2="833.60" stroke="#1c1c1c" stroke-width="1.35" stroke-linecap="butt"/>
<polygon points="421.60,833.60 406.60,829.35 406.60,837.85" fill="#1c1c1c"/>
<polygon points="487.30,833.60 502.30,829.35 502.30,837.85" fill="#1c1c1c"/>
<text transform="translate(329.96,822.60) scale(1.037,1)" font-size="25.09">58-70</text>
<line x1="421.60" y1="886.40" x2="526.40" y2="886.40" stroke="#1c1c1c" stroke-width="1.35" stroke-linecap="butt"/>
<polygon points="421.60,886.40 436.60,882.15 436.60,890.65" fill="#1c1c1c"/>
<polygon points="526.40,886.40 511.40,882.15 511.40,890.65" fill="#1c1c1c"/>
<line x1="526.40" y1="815.00" x2="526.40" y2="891.80" stroke="#1c1c1c" stroke-width="1.35" stroke-linecap="butt"/>
<text transform="translate(454.03,879.20) scale(0.995,1)" font-size="25.09">123</text>
</svg>
</body></html>
